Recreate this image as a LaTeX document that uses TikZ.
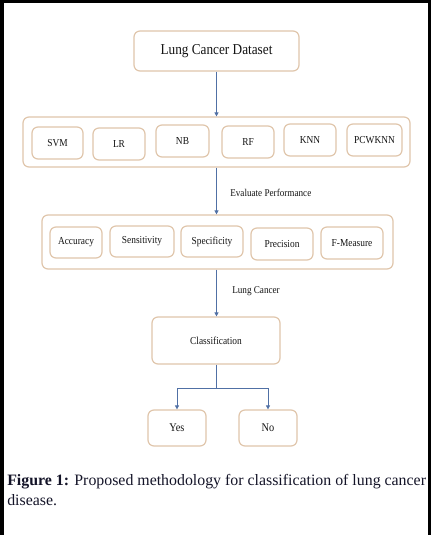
\documentclass[tikz,border=0pt]{standalone}
\usepackage{fontspec}
\setmainfont{Liberation Serif}
\newfontfamily\boxfont[FakeStretch=0.88]{Liberation Serif}
\usetikzlibrary{arrows.meta}
\definecolor{boxc}{RGB}{224,198,172}
\definecolor{linec}{RGB}{80,112,165}
\definecolor{txtc}{RGB}{20,20,20}
\definecolor{capc}{RGB}{20,20,40}
\tikzset{
  rbox/.style={draw=boxc, line width=0.9pt, rounded corners=4.5pt, fill=white,
    inner sep=0pt, text=txtc, font=\boxfont\fontsize{8pt}{9pt}\selectfont},
  conn/.style={draw=linec, line width=0.55pt},
  arr/.style={conn, -{Triangle[length=3pt,width=3pt]}},
  lbl/.style={anchor=west, inner sep=0pt, text=txtc, font=\boxfont\fontsize{7.8pt}{9pt}\selectfont}
}
\newcommand{\bx}[6]{\node[rbox, minimum width=#4*0.75pt, minimum height=#5*0.75pt] (#1) at (#2,#3) {#6};}
\begin{document}
\begin{tikzpicture}[x=0.75pt, y=-0.75pt]
\useasboundingbox (0,0) rectangle (431,535);
\fill[white] (0,0) rectangle (431,535);
% frame
\fill[black] (0,0) rectangle (431,3);
\fill[black] (0,0) rectangle (4,535);
\fill[black] (428,0) rectangle (431,535);
% top
\node[rbox, minimum width=165*0.75pt, minimum height=40*0.75pt, font=\boxfont\fontsize{11.3pt}{13pt}\selectfont] (ds) at (216.5,51) {Lung Cancer Dataset};
% group 1
\bx{g1}{216.5}{142}{387}{50}{}
\bx{svm}{57.5}{143}{51}{32}{SVM}
\bx{lr}{119}{144}{52}{32}{LR}
\bx{nb}{182.5}{141}{53}{32}{NB}
\bx{rf}{248}{142}{52}{32}{RF}
\bx{knn}{310}{140}{52}{32}{KNN}
\bx{pcw}{374.5}{140}{55}{32}{PCWKNN}
% group 2
\bx{g2}{217.5}{242}{351}{54}{}
\bx{acc}{76}{242.5}{52}{31}{Accuracy}
\bx{sen}{142}{241.5}{64}{31}{Sensitivity}
\bx{spe}{212}{241.5}{62}{31}{Specificity}
\bx{pre}{282}{244}{62}{32}{Precision}
\bx{fme}{352}{243}{62}{32}{F-Measure}
% classification
\bx{cls}{216}{340.5}{128}{47}{Classification}
\bx{yes}{177}{428}{58}{36}{\fontsize{8.8pt}{10pt}\selectfont Yes}
\bx{no}{268}{428}{58}{36}{\fontsize{8.8pt}{10pt}\selectfont No}
% connectors
\draw[arr] (ds.south) -- (ds.south |- g1.north);
\draw[arr] (g1.south) -- (g1.south |- g2.north);
\draw[arr] (g1.south |- g2.south) -- (g1.south |- cls.north);
\node[lbl] (ep) at (230,193) {Evaluate Performance};
\node[lbl] (lc) at (232,291) {Lung Cancer};
\coordinate (bus) at (216.5,388);
\draw[conn] (cls.south) -- (cls.south |- bus);
\draw[arr] (cls.south |- bus) -| (yes.north);
\draw[arr] (cls.south |- bus) -| (no.north);
% caption
\node[anchor=north west, inner sep=0pt, align=left, text=capc, font=\fontsize{11.9pt}{14.8pt}\selectfont] (cap) at (7,474)
  {\textbf{Figure 1:} Proposed methodology for classification of lung cancer\\disease.};
\end{tikzpicture}
\end{document}
